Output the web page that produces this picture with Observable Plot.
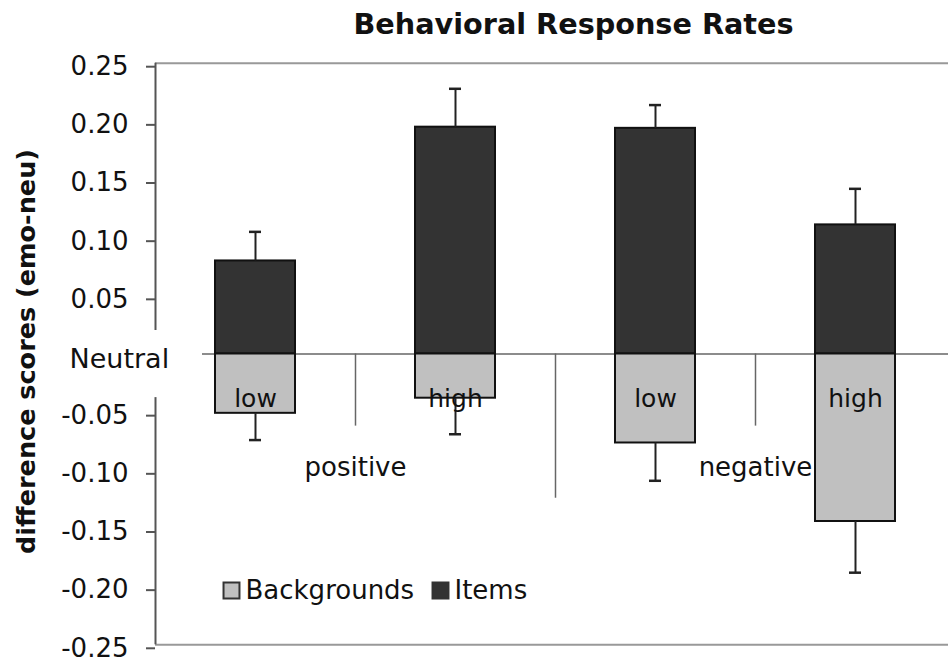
<!DOCTYPE html>
<html>
<head>
<meta charset="utf-8">
<script src="https://cdn.jsdelivr.net/npm/d3@7"></script>
<script src="https://cdn.jsdelivr.net/npm/@observablehq/plot@0.6"></script>
<style>
  html, body { margin: 0; padding: 0; background: #fff; }
</style>
</head>
<body>
<div id="chart"></div>
<script>
// ---- data ----
const title = "Behavioral Response Rates";
const yTitle = "difference scores (emo-neu)";
const keys = ["pos-low", "pos-high", "neg-low", "neg-high"];
const levels = ["low", "high", "low", "high"];
const groups = ["positive", "negative"];
const groupKeys = ["pos-low", "neg-low"];          // group label sits after this bar
const itemValues = [0.080, 0.195, 0.194, 0.111];
const itemErrors = [0.105, 0.228, 0.214, 0.142];
const bgValues = [-0.051, -0.038, -0.0765, -0.144];
const bgErrors = [-0.074, -0.069, -0.109, -0.188];
const yTicks = [0.25, 0.20, 0.15, 0.10, 0.05, -0.05, -0.10, -0.15, -0.20, -0.25];
const yTickLabels = ["0.25", "0.20", "0.15", "0.10", "0.05", "-0.05", "-0.10", "-0.15", "-0.20", "-0.25"];
const zeroLabel = "Neutral";
const separatorKeys = ["pos-low", "pos-high", "neg-low"];
const separatorEnds = [-0.062, -0.124, -0.062];
const axisStarts = [0.25, -0.0375];
const axisEnds = [0.0203, -0.25];
const legendNames = ["Backgrounds", "Items"];
const colors = { Backgrounds: "#c0c0c0", Items: "#333333" };

// ---- tables ----
const items = keys.map((k, i) => ({ key: k, value: itemValues[i], err: itemErrors[i] }));
const bgs = keys.map((k, i) => ({ key: k, value: bgValues[i], err: bgErrors[i], level: levels[i] }));
const seps = separatorKeys.map((k, i) => ({ key: k, end: separatorEnds[i] }));
const axisSegs = axisStarts.map((s, i) => ({ key: keys[0], y1: s, y2: axisEnds[i] }));
const groupLabels = groups.map((g, i) => ({ key: groupKeys[i], name: g }));
const tickLabel = new Map(yTicks.map((t, i) => [t, yTickLabels[i]]));

const W = 948, H = 665;
const xRange = [155, 955];
const step = (xRange[1] - xRange[0]) / keys.length;
const font = "DejaVu Sans";

const chart = Plot.plot({
  width: W,
  height: H,
  marginLeft: 155,
  marginRight: 0,
  marginTop: 63,
  marginBottom: 21,
  style: { fontFamily: font, fontSize: "26px", color: "#111", background: "#fff" },
  x: { domain: keys, range: xRange, paddingInner: 0.6, paddingOuter: 0.3, axis: null },
  y: { domain: [-0.25, 0.25], range: [644.3, 62.7], axis: null },
  marks: [
    // top & bottom border
    Plot.ruleY([0.25, -0.25], { stroke: "#999", strokeWidth: 2 }),
    // neutral line
    Plot.ruleY([0], { stroke: "#666", strokeWidth: 1.5, insetLeft: 47 }),
    // broken y axis line
    Plot.ruleX(axisSegs, { x: "key", y1: "y1", y2: "y2", dx: -step / 2, stroke: "#555", strokeWidth: 2 }),
    // y axis ticks & labels
    Plot.axisY(yTicks, {
      tickSize: 9, tickPadding: 18, stroke: "#555", strokeWidth: 2,
      tickFormat: (d) => tickLabel.get(d), fontSize: 26, fill: "#111", dy: 3.5, label: null
    }),
    // category separators
    Plot.ruleX(seps, { x: "key", y1: 0, y2: "end", dx: step / 2, stroke: "#666", strokeWidth: 1.5 }),
    // bars
    Plot.barY(items, { x: "key", y: "value", fill: colors.Items, stroke: "#111", strokeWidth: 2 }),
    Plot.barY(bgs, { x: "key", y: "value", fill: colors.Backgrounds, stroke: "#111", strokeWidth: 2 }),
    // error bars
    Plot.ruleX(items, { x: "key", y1: "value", y2: "err", stroke: "#222", strokeWidth: 2 }),
    Plot.tickY(items, { x: "key", y: "err", insetLeft: 34, insetRight: 34, stroke: "#222", strokeWidth: 2.5 }),
    Plot.ruleX(bgs, { x: "key", y1: "value", y2: "err", stroke: "#222", strokeWidth: 2 }),
    Plot.tickY(bgs, { x: "key", y: "err", insetLeft: 34, insetRight: 34, stroke: "#222", strokeWidth: 2.5 }),
    // level labels inside background bars
    Plot.text(bgs, { x: "key", y: () => 0, text: "level", dy: 45, fontSize: 25, fill: "#111", fontFamily: font }),
    // group labels
    Plot.text(groupLabels, { x: "key", y: () => 0, text: "name", dx: step / 2, dy: 114, fontSize: 26, fill: "#111", fontFamily: font }),
    // zero label
    Plot.text([zeroLabel], { y: () => 0, text: (d) => d, frameAnchor: "left", textAnchor: "start", lineAnchor: "middle", dx: -86, dy: 5, fontSize: 27, fill: "#111", fontFamily: font }),
    // y title
    Plot.text([yTitle], { frameAnchor: "left", text: (d) => d, rotate: -90, textAnchor: "middle", lineAnchor: "middle", dx: -129, dy: -2.5, fontSize: 25.5, fontWeight: "bold", fill: "#111", fontFamily: font }),
    // chart title
    Plot.text([title], { frameAnchor: "top", text: (d) => d, textAnchor: "middle", lineAnchor: "middle", dx: 21.5, dy: -38.4, fontSize: 28.7, fontWeight: "bold", fill: "#111", fontFamily: font }),
    // legend
    Plot.dot([legendNames[0]], { frameAnchor: "top-left", dx: 76, dy: 527, symbol: "square", r: 9, fill: colors.Backgrounds, stroke: "#333", strokeWidth: 2 }),
    Plot.dot([legendNames[1]], { frameAnchor: "top-left", dx: 285, dy: 527, symbol: "square", r: 9, fill: colors.Items, stroke: "#333", strokeWidth: 2 }),
    Plot.text([legendNames[0]], { frameAnchor: "top-left", text: (d) => d, textAnchor: "start", lineAnchor: "middle", dx: 90, dy: 527, fontSize: 26, fill: "#111", fontFamily: font }),
    Plot.text([legendNames[1]], { frameAnchor: "top-left", text: (d) => d, textAnchor: "start", lineAnchor: "middle", dx: 299, dy: 527, fontSize: 26, fill: "#111", fontFamily: font })
  ]
});
document.getElementById("chart").appendChild(chart);
</script>
</body>
</html>
